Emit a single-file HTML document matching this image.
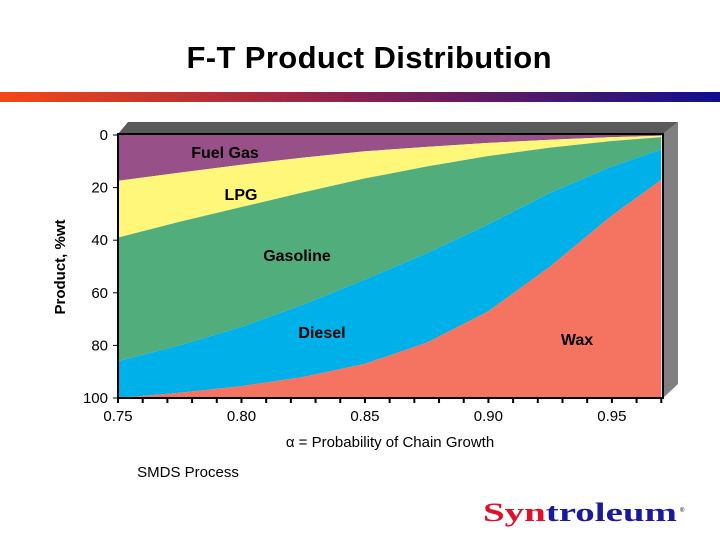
<!DOCTYPE html>
<html><head><meta charset="utf-8"><style>
body{margin:0;width:720px;height:540px;background:#fff;overflow:hidden;font-family:"Liberation Sans",sans-serif}
</style></head><body>
<svg width="720" height="540" xmlns="http://www.w3.org/2000/svg">
<defs><linearGradient id="band" x1="0" x2="1"><stop offset="0" stop-color="#f04a12"/><stop offset="0.5" stop-color="#8a2050"/><stop offset="1" stop-color="#10108a"/></linearGradient></defs>
<text x="369" y="68" text-anchor="middle" font-size="31" font-weight="bold" fill="#000" textLength="365">F-T Product Distribution</text>
<rect x="0" y="92" width="720" height="10" fill="url(#band)"/>
<polygon points="118,134 128,122 678,122 663,134" fill="#5a5a5a"/>
<polygon points="663,134 678,122 678,384 663,398" fill="#808080"/>
<g id="plot"></g>
<rect x="118" y="134" width="545" height="264" fill="none" stroke="#000" stroke-width="2"/>
<g id="axes"></g>
<text x="65" y="267" text-anchor="middle" font-size="15" font-weight="bold" transform="rotate(-90 65 267)">Product, %wt</text>
<text x="390" y="447" text-anchor="middle" font-size="15">α = Probability of Chain Growth</text>
<text x="188" y="477" text-anchor="middle" font-size="15">SMDS Process</text>
<text x="483" y="521" font-size="26" font-weight="bold" font-family="Liberation Serif,serif" fill="#e0102a" textLength="194" lengthAdjust="spacingAndGlyphs">Syn<tspan fill="#1a1a9a">troleum</tspan></text>
<text x="680" y="512" font-size="6">®</text>
</svg>
<script>
const alphas=[0.75,0.775,0.80,0.825,0.85,0.875,0.90,0.925,0.95,0.97];
const fuelGas=[17.4,14.3,11.3,8.6,6.2,4.5,3,1.8,0.8,0.3];
const lpg=[21.6,18.7,16.1,13.2,10.3,7.5,5,3,1.5,0.5];
const gasoline=[47,47,45.6,42.7,38.5,33,26,17.2,9.7,4.7];
const diesel=[14,18,22.5,27.5,32,34,33,28,18.6,11.5];
const wax=[0,2,4.5,8,13,21,33,50,69.4,83];
const xTicks=[0.75,0.80,0.85,0.90,0.95];
const yTicks=[0,20,40,60,80,100];
const NS="http://www.w3.org/2000/svg";
const X=a=>118+(a-0.75)/(0.9707-0.75)*545;
const Y=v=>135+v*2.63;
const series=[["fuel-gas-area",fuelGas,"#985088"],["lpg-area",lpg,"#fff77a"],["gasoline-area",gasoline,"#52ad7c"],["diesel-area",diesel,"#00b0e8"],["wax-area",wax,"#f47361"]];
const plot=document.getElementById('plot');
let base=alphas.map(()=>0);
series.forEach(([nm,vals,col])=>{
  const top=base.slice();const bot=base.map((b,i)=>b+vals[i]);
  let pts=alphas.map((a,i)=>X(a)+","+Y(top[i]));
  for(let i=alphas.length-1;i>=0;i--)pts.push(X(alphas[i])+","+Y(bot[i]));
  const p=document.createElementNS(NS,'polygon');
  p.setAttribute('points',pts.join(' '));p.setAttribute('fill',col);
  
  
  plot.appendChild(p);base=bot;
});
const labels=[["Fuel Gas",225,158],["LPG",241,200],["Gasoline",297,261],["Diesel",322,338],["Wax",577,345]];
labels.forEach(([t,x,y])=>{const e=document.createElementNS(NS,'text');e.setAttribute('x',x);e.setAttribute('y',y);e.setAttribute('text-anchor','middle');e.setAttribute('font-size','16');e.setAttribute('font-weight','bold');e.textContent=t;


plot.appendChild(e);});
const axes=document.getElementById('axes');
yTicks.forEach(v=>{const e=document.createElementNS(NS,'text');e.setAttribute('x',108);e.setAttribute('y',Y(v)+5);e.setAttribute('text-anchor','end');e.setAttribute('font-size','15');e.textContent=v;


axes.appendChild(e);
const l=document.createElementNS(NS,'line');l.setAttribute('x1',113);l.setAttribute('x2',118);l.setAttribute('y1',Y(v));l.setAttribute('y2',Y(v));l.setAttribute('stroke','#000');


axes.appendChild(l);});
for(let a=0.75;a<=0.9701;a+=0.01){const l=document.createElementNS(NS,'line');l.setAttribute('x1',X(a));l.setAttribute('x2',X(a));l.setAttribute('y1',398);l.setAttribute('y2',403);l.setAttribute('stroke','#000');l.setAttribute('stroke-width','2');


axes.appendChild(l);}
xTicks.forEach(v=>{const e=document.createElementNS(NS,'text');e.setAttribute('x',X(v));e.setAttribute('y',421);e.setAttribute('text-anchor','middle');e.setAttribute('font-size','15');e.textContent=v.toFixed(2);


axes.appendChild(e);});
</script>
</body></html>
